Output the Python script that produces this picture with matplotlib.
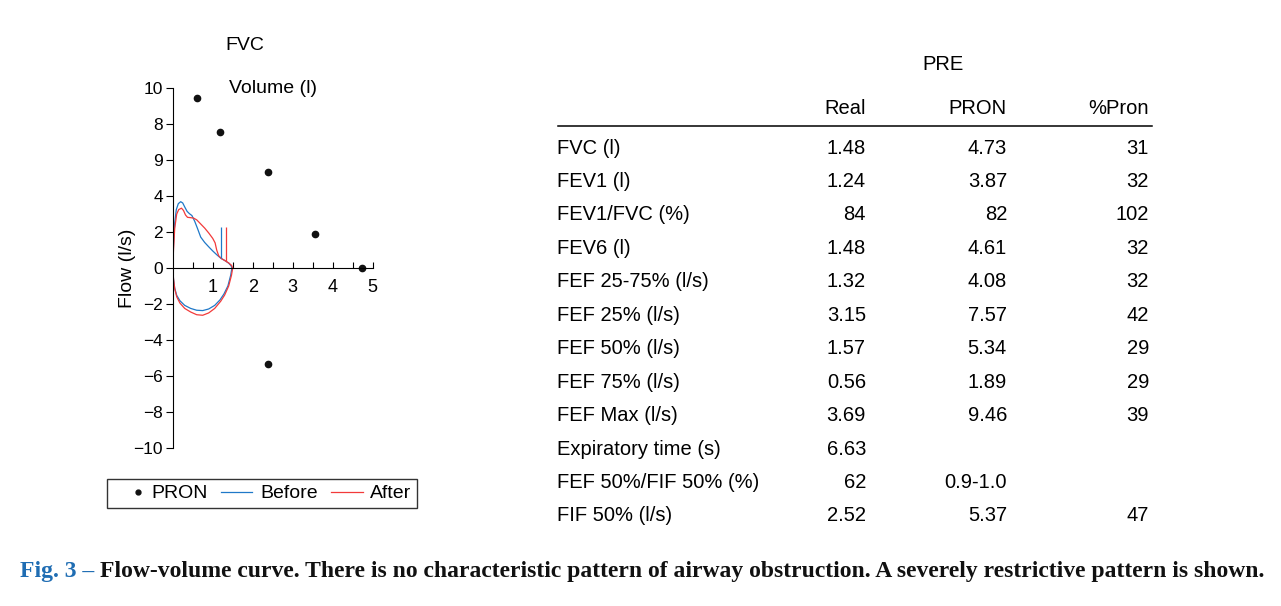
import matplotlib
matplotlib.use("Agg")
import matplotlib.pyplot as plt
from matplotlib.lines import Line2D
from matplotlib.legend_handler import HandlerLine2D

plt.rcParams['font.family'] = ['Liberation Sans', 'DejaVu Sans']

# flow-volume loops (volume l, flow l/s)
before_vol = [0.0, 0.02, 0.05, 0.09, 0.14, 0.2, 0.25, 0.3, 0.36, 0.42, 0.48, 0.55, 0.62, 0.7, 0.8,
              0.9, 1.0, 1.1, 1.2, 1.3, 1.4, 1.46, 1.48,
              1.45, 1.38, 1.28, 1.18, 1.05, 0.9, 0.75, 0.6, 0.45, 0.3, 0.18, 0.1, 0.05, 0.02, 0.0]
before_flow = [0.0, 1.3, 2.5, 3.25, 3.58, 3.69, 3.62, 3.4, 3.15, 3.02, 2.92, 2.6, 2.2, 1.72, 1.42,
               1.18, 0.95, 0.74, 0.55, 0.42, 0.27, 0.12, 0.0,
               -0.4, -1.0, -1.45, -1.78, -2.08, -2.28, -2.37, -2.35, -2.25, -2.08, -1.82, -1.52, -1.12, -0.62, 0.0]
after_vol = [0.0, 0.02, 0.05, 0.1, 0.15, 0.22, 0.27, 0.32, 0.37, 0.45, 0.52, 0.6, 0.7, 0.8, 0.9,
             1.0, 1.06, 1.1, 1.15, 1.22, 1.3, 1.4, 1.47, 1.5,
             1.47, 1.4, 1.3, 1.2, 1.05, 0.9, 0.75, 0.6, 0.45, 0.3, 0.18, 0.1, 0.05, 0.02, 0.0]
after_flow = [0.0, 1.0, 2.2, 3.0, 3.25, 3.33, 3.2, 2.95, 2.82, 2.8, 2.78, 2.68, 2.45, 2.22, 1.95,
              1.65, 1.4, 1.0, 0.68, 0.52, 0.42, 0.28, 0.15, 0.0,
              -0.4, -1.0, -1.5, -1.85, -2.25, -2.5, -2.63, -2.6, -2.45, -2.25, -1.95, -1.6, -1.15, -0.6, 0.0]

# FEV1 markers (volume, flow at curve, top)
fev1_before = [1.21, 0.55, 2.3]
fev1_after = [1.33, 0.41, 2.3]

# predicted points
pron_vol = [0.6, 1.18, 2.37, 3.55, 4.73, 2.37]
pron_flow = [9.46, 7.57, 5.34, 1.89, 0.0, -5.37]

yticks = [-10, -8, -6, -4, -2, 0, 2, 4, 6, 8, 10]
ytick_labels = ['\u221210', '\u22128', '\u22126', '\u22124', '\u22122', '0', '2', '4', '9', '8', '10']
xticks = [0.5, 1, 1.5, 2, 2.5, 3, 3.5, 4, 4.5, 5]
xtick_labels = ['', '1', '', '2', '', '3', '', '4', '', '5']

# table
col_heads = ['Real', 'PRON', '%Pron']
row_names = ['FVC (l)', 'FEV1 (l)', 'FEV1/FVC (%)', 'FEV6 (l)', 'FEF 25-75% (l/s)', 'FEF 25% (l/s)',
             'FEF 50% (l/s)', 'FEF 75% (l/s)', 'FEF Max (l/s)', 'Expiratory time (s)',
             'FEF 50%/FIF 50% (%)', 'FIF 50% (l/s)']
real_vals = ['1.48', '1.24', '84', '1.48', '1.32', '3.15', '1.57', '0.56', '3.69', '6.63', '62', '2.52']
pron_vals = ['4.73', '3.87', '82', '4.61', '4.08', '7.57', '5.34', '1.89', '9.46', '', '0.9-1.0', '5.37']
pct_vals = ['31', '32', '102', '32', '32', '42', '29', '29', '39', '', '', '47']

W, H = 1281, 606
fig = plt.figure(figsize=(W / 100, H / 100), dpi=100)


def fx(x):
    return x / W


def fy(y):
    return 1 - y / H


ax = fig.add_axes([fx(172.7), fy(447.7), fx(372.7) - fx(172.7), fy(88.3) - fy(447.7)])
blue = '#1f78c8'
red = '#f23a3a'
ax.plot(before_vol, before_flow, color=blue, lw=0.9, label='Before')
ax.plot(after_vol, after_flow, color=red, lw=0.9, label='After')
ax.vlines(fev1_before[0], fev1_before[1], fev1_before[2], color=blue, lw=0.9)
ax.vlines(fev1_after[0], fev1_after[1], fev1_after[2], color=red, lw=0.9)
ax.plot(pron_vol, pron_flow, 'o', color='#111111', ms=4.5, ls='none', label='PRON')

ax.set_xlim(0, 5)
ax.set_ylim(-10, 10)
ax.spines['top'].set_visible(False)
ax.spines['right'].set_visible(False)
ax.spines['bottom'].set_position(('data', 0))
ax.set_yticks(yticks)
ax.set_yticklabels(ytick_labels)
ax.set_xticks(xticks)
ax.set_xticklabels(xtick_labels)
ax.tick_params(axis='y', direction='out', length=5, labelsize=12.5, pad=2)
ax.tick_params(axis='x', direction='in', length=4, labelsize=13, pad=8)
ax.set_ylabel('Flow (l/s)', fontsize=14)
ax.yaxis.set_label_coords(-0.185, 0.5)
ax.text(0.5, 1.0, 'Volume (l)', transform=ax.transAxes, ha='center', va='center', fontsize=14)
ax.text(0.36, 1.12, 'FVC', transform=ax.transAxes, ha='center', va='center', fontsize=14)

handles = [Line2D([], [], marker='o', color='#111111', ms=3.5, ls='none'),
           Line2D([], [], color=blue, lw=0.9),
           Line2D([], [], color=red, lw=0.9)]
leg = fig.legend(handles, ['PRON', 'Before', 'After'], loc='center',
                 bbox_to_anchor=(fx(262), fy(493.5)), ncol=3, fontsize=14, frameon=True,
                 fancybox=False, edgecolor='black', handlelength=1.6, handletextpad=0.4,
                 columnspacing=0.7, borderpad=0.3, borderaxespad=0,
                 handler_map={handles[0]: HandlerLine2D(numpoints=1, xpad=1.0)})
leg.get_frame().set_linewidth(1.0)

# table text
fs = 14.5
dy = 2.0
fig.text(fx(943), fy(63 + dy), 'PRE', ha='center', va='center', fontsize=fs)
col_x = [866, 1007, 1149]
for cx, head in zip(col_x, col_heads):
    fig.text(fx(cx), fy(106.5 + dy), head, ha='right', va='center', fontsize=fs)
fig.add_artist(Line2D([fx(558), fx(1152)], [fy(125.5), fy(125.5)], color='black', lw=1.1))
for i, name in enumerate(row_names):
    yy = fy(146 + dy + i * 33.45)
    fig.text(fx(557), yy, name, ha='left', va='center', fontsize=fs)
    for cx, vals in zip(col_x, [real_vals, pron_vals, pct_vals]):
        fig.text(fx(cx), yy, vals[i], ha='right', va='center', fontsize=fs)

# caption
cap_blue = 'Fig. 3 \u2013 '
cap_black = ('Flow-volume curve. There is no characteristic pattern of airway obstruction. '
             'A severely restrictive pattern is shown.')
t1 = fig.text(fx(20), fy(571), cap_blue, ha='left', va='center', fontsize=17,
              family='Liberation Serif', weight='bold', color='#1f6db3')
fig.canvas.draw()
bb = t1.get_window_extent()
fig.text(bb.x1 / W, fy(571), cap_black, ha='left', va='center', fontsize=17,
         family='Liberation Serif', weight='bold', color='#111111')

fig.savefig('out.png', dpi=100)
